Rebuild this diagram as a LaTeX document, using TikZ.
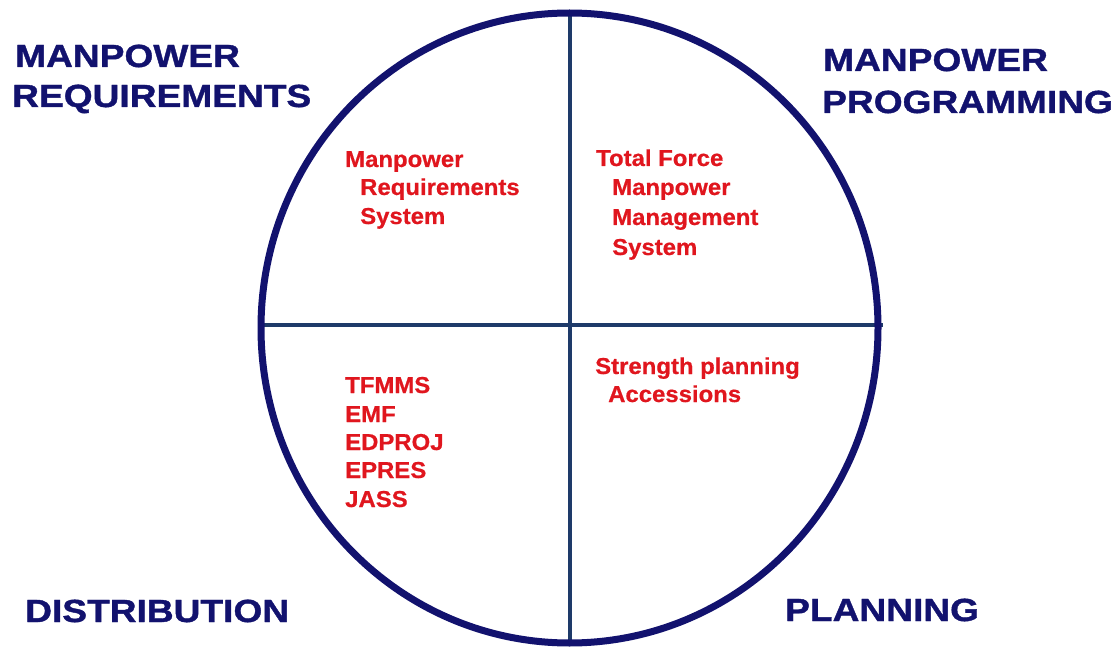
\documentclass[tikz,border=0pt]{standalone}
\usepackage{fontspec}
\setmainfont{Liberation Sans}
\newfontfamily\headfont[FakeStretch=1.16,FakeBold=1.2]{Liberation Sans}
\newfontfamily\itemfont[FakeStretch=1.04,FakeBold=0.6]{Liberation Sans}
\definecolor{navy}{RGB}{18,18,110}
\definecolor{slate}{RGB}{30,58,105}
\definecolor{redtxt}{RGB}{224,22,30}
\tikzset{
  head/.style={anchor=base west, inner sep=0pt, text=navy, font=\headfont\bfseries\fontsize{32}{38}\selectfont},
  item/.style={anchor=base west, inner sep=0pt, text=redtxt, font=\itemfont\bfseries\fontsize{23}{28}\selectfont},
  divider/.style={draw=slate, line width=4pt},
  rim/.style={draw=navy, line width=7pt},
}
\begin{document}
\begin{tikzpicture}[x=1pt,y=-1pt]
\useasboundingbox (0,0) rectangle (1117,647);
% centre and quadrant line ends
\coordinate (c) at (569.5,328);
\coordinate (top) at (570,13);
\coordinate (bot) at (570,643);
\coordinate (lft) at (264,325);
\coordinate (rgt) at (883,325);
\draw[divider] (top) -- (bot);
\draw[divider] (lft) -- (rgt);
\draw[rim] (c) ellipse [x radius=308.5, y radius=315];
% headings
\node[head] (mr1) at (15,67) {MANPOWER};
\node[head] (mr2) at (12,107) {REQUIREMENTS};
\node[head] (mp1) at (823,71) {MANPOWER};
\node[head] (mp2) at (822,113) {PROGRAMMING};
\node[head] (dist) at (25,622) {DISTRIBUTION};
\node[head] (plan) at (785,621) {PLANNING};
% quadrant items
\node[item] (a1) at (345,167) {Manpower};
\node[item] (a2) at (360,195) {Requirements};
\node[item] (a3) at (360,224) {System};
\node[item] (b1) at (596,166) {Total Force};
\node[item] (b2) at (612,195) {Manpower};
\node[item] (b3) at (612,225) {Management};
\node[item] (b4) at (612,255) {System};
\node[item] (c1) at (595,374) {Strength planning};
\node[item] (c2) at (608,402) {Accessions};
\node[item] (d1) at (345,393) {TFMMS};
\node[item] (d2) at (345,422) {EMF};
\node[item] (d3) at (345,450) {EDPROJ};
\node[item] (d4) at (345,478) {EPRES};
\node[item] (d5) at (345,507) {JASS};
\end{tikzpicture}
\end{document}
